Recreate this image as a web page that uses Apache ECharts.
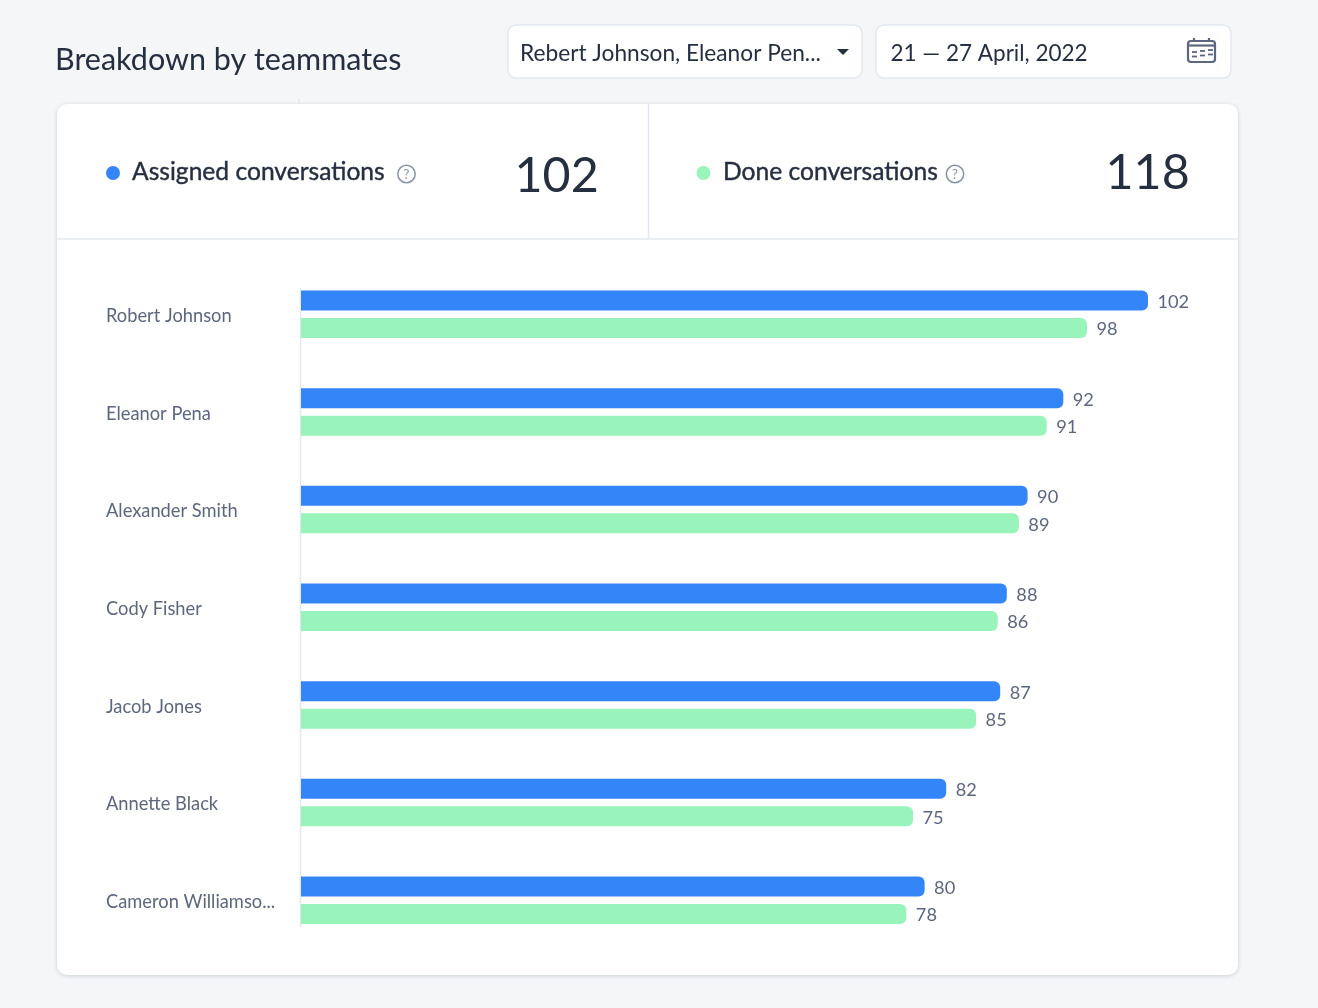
<!DOCTYPE html>
<html><head><meta charset="utf-8">
<script src="https://cdn.jsdelivr.net/npm/echarts@6/dist/echarts.min.js"></script>
<style>html,body{margin:0;padding:0;background:#f5f6f8}#c{width:1318px;height:1008px}</style>
</head><body><div id="c"></div>
<script>
const teammates = ['Robert Johnson','Eleanor Pena','Alexander Smith','Cody Fisher','Jacob Jones','Annette Black','Cameron Williamso...'];
const assignedLabels = [102,92,90,88,87,82,80];
const doneLabels = [98,91,89,86,85,75,78];
// Bar lengths as drawn in the picture (they are not strictly proportional to the printed labels)
const assignedLengths = [102,91.8,87.5,85.0,84.2,77.7,75.1];
const doneLengths = [94.65,89.8,86.45,83.9,81.3,73.7,72.9];
const titleText = 'Breakdown by teammates';
const selectText = 'Rebert Johnson, Eleanor Pen...';
const dateText = '21 — 27 April, 2022';
const assignedTitle = 'Assigned conversations', assignedTotal = '102';
const doneTitle = 'Done conversations', doneTotal = '118';

const FONT = 'Lato, "Open Sans", sans-serif';
const BLUE = '#3485f7', GREEN = '#98f4ba', DARK = '#252f40', MUTED = '#5c677d', LINE = '#e4e8ee';

const txt = (x,y,text,size,fill,heavy) => ({type:'text',x,y,z:3,silent:true,style:{text,fontFamily:FONT,fontSize:size,fill,align:'left',verticalAlign:'middle',stroke:heavy?fill:null,lineWidth:heavy||0}});
const box = (x,y,w,h,r) => ({type:'rect',z:1,silent:true,shape:{x,y,width:w,height:h,r},style:{fill:'#fff',stroke:LINE,lineWidth:1.5}});
const line = (x1,y1,x2,y2) => ({type:'line',z:1,silent:true,shape:{x1,y1,x2,y2},style:{stroke:LINE,lineWidth:1.5}});
const dot = (cx,cy,r,fill) => ({type:'circle',z:3,silent:true,shape:{cx,cy,r},style:{fill}});
const help = (cx,cy) => [
  {type:'circle',z:3,silent:true,shape:{cx,cy,r:8.7},style:{fill:'none',stroke:'#8793a6',lineWidth:1.5}},
  {type:'text',x:cx,y:cy+.5,z:3,silent:true,style:{text:'?',fontFamily:FONT,fontSize:13,fill:'#8793a6',align:'center',verticalAlign:'middle'}}
];
const ICON = '#5c677d';
const calendar = [
  {type:'rect',z:3,silent:true,shape:{x:1188,y:41,width:27,height:21,r:3},style:{fill:'none',stroke:ICON,lineWidth:2.2}},
  {type:'line',z:3,silent:true,shape:{x1:1188,y1:45.5,x2:1215,y2:45.5},style:{stroke:ICON,lineWidth:2.2}},
  {type:'line',z:3,silent:true,shape:{x1:1194,y1:38,x2:1194,y2:42},style:{stroke:ICON,lineWidth:2.2}},
  {type:'line',z:3,silent:true,shape:{x1:1209,y1:38,x2:1209,y2:42},style:{stroke:ICON,lineWidth:2.2}}
];
[[1192,52],[1200,51],[1208,50],[1192,56.5],[1200,55.5],[1208,54.5]].forEach(p=>calendar.push(
  {type:'line',z:3,silent:true,shape:{x1:p[0],y1:p[1],x2:p[0]+5,y2:p[1]},style:{stroke:ICON,lineWidth:1.8}}));

const elements = [
  line(299,99,299,104),
  {type:'rect',z:0,silent:true,shape:{x:57,y:104,width:1181,height:871,r:10},style:{fill:'#fff',shadowBlur:4,shadowOffsetY:1,shadowColor:'rgba(30,40,60,.18)'}},
  line(57,239,1238,239),
  line(648.5,104,648.5,239),
  line(300.5,288,300.5,927),
  txt(55,60,titleText,30.5,DARK),
  box(508,25,354,53,8),
  txt(520,54,selectText,22.7,DARK),
  {type:'polygon',z:3,silent:true,shape:{points:[[837,49],[849,49],[843,55]]},style:{fill:DARK}},
  box(876,25,355,53,8),
  txt(890.5,54,dateText,22.5,DARK),
  ...calendar,
  dot(113,173,7,BLUE),
  txt(132,172,assignedTitle,24.6,DARK,0.4),
  ...help(406.5,174),
  txt(514.5,176,assignedTotal,48.4,DARK),
  dot(703.5,173,7,GREEN),
  txt(723,172,doneTitle,24.6,DARK,0.4),
  ...help(955,174),
  txt(1105.5,173,doneTotal,48.4,DARK)
];

const barSeries = (name,lengths,labels,color) => ({
  name,type:'bar',data:lengths,barWidth:20,barGap:'37.5%',
  itemStyle:{color,borderRadius:[0,6,6,0]},
  label:{show:true,position:'right',distance:9.5,offset:[0,1.5],fontFamily:FONT,fontSize:18.2,color:MUTED,
    formatter:p=>labels[p.dataIndex]},
  emphasis:{disabled:true},animation:false
});

const chart = echarts.init(document.getElementById('c'));
chart.setOption({
  animation:false,
  backgroundColor:'#f5f6f8',
  tooltip:{show:false},
  legend:{show:false},
  grid:{left:301,top:265.4,width:847,height:683.7,containLabel:false},
  xAxis:{type:'value',min:0,max:102,show:false},
  yAxis:{type:'category',inverse:true,data:teammates,
    axisLine:{show:false},axisTick:{show:false},splitLine:{show:false},
    axisLabel:{fontFamily:FONT,fontSize:18.3,color:MUTED,align:'left',margin:195,interval:0,verticalAlign:'top',lineHeight:4}},
  graphic:{elements},
  series:[
    barSeries('Assigned conversations',assignedLengths,assignedLabels,BLUE),
    barSeries('Done conversations',doneLengths,doneLabels,GREEN)
  ]
});
</script></body></html>
